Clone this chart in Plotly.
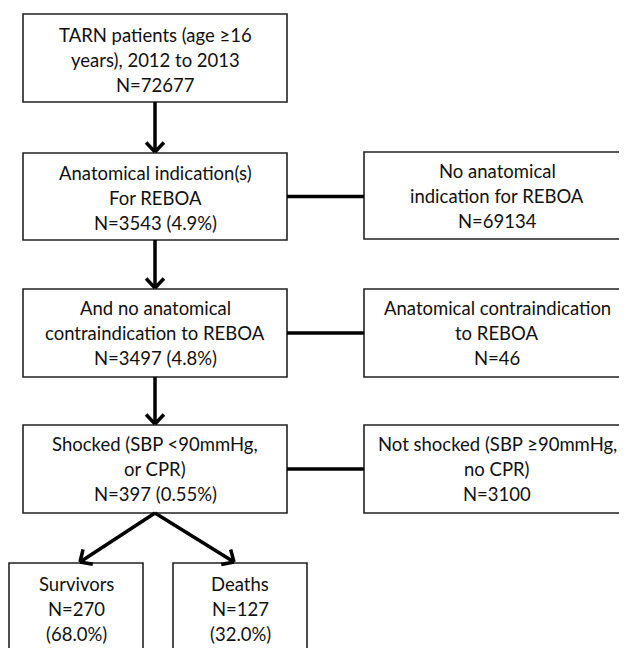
import plotly.graph_objects as go
import math

# ---- data: node texts ----
node_labels = [
    ["TARN patients (age \u226516", "years), 2012 to 2013", "N=72677"],
    ["Anatomical indication(s)", "For REBOA", "N=3543 (4.9%)"],
    ["No anatomical", "indication for REBOA", "N=69134"],
    ["And no anatomical", "contraindication to REBOA", "N=3497 (4.8%)"],
    ["Anatomical contraindication", "to REBOA", "N=46"],
    ["Shocked (SBP <90mmHg,", "or CPR)", "N=397 (0.55%)"],
    ["Not shocked (SBP \u226590mmHg,", "no CPR)", "N=3100"],
    ["Survivors", "N=270", "(68.0%)"],
    ["Deaths", "N=127", "(32.0%)"],
]

# ---- layout: box geometry (x0, y0, x1, y1) in pixels ----
boxes = [
    (23, 14, 287, 102),
    (23, 153, 287, 240),
    (364, 152, 627, 239),
    (23, 289, 287, 377),
    (364, 289, 627, 377),
    (23, 425, 287, 513),
    (364, 425, 627, 513),
    (9, 563, 143, 700),
    (173, 563, 307, 700),
]
text_centers_y = [60, 198, 196, 333, 333, 469, 469, 609, 609]
text_centers_x_right = 497

# arrows (from node, to node) with heads; plain connectors without heads
arrows = [(0, 1), (1, 3), (3, 5)]
connectors = [(1, 2), (3, 4), (5, 6)]
diag_targets = [(5, 7, 80), (5, 8, 234)]

fig = go.Figure()
shapes = []
annotations = []
LINE_SP = 25
FONT = dict(family="Lato, 'Open Sans', sans-serif", size=18.5, color="#111")

for k, ((x0, y0, x1, y1), lbl, cy) in enumerate(zip(boxes, node_labels, text_centers_y)):
    shapes.append(dict(type="rect", x0=x0, y0=y0, x1=x1, y1=y1,
                       line=dict(color="#222", width=1.6), fillcolor="white", layer="below"))
    cx = (x0 + x1) / 2 if x0 < 300 else text_centers_x_right
    n = len(lbl)
    for i, t in enumerate(lbl):
        annotations.append(dict(x=cx, y=cy + (i - (n - 1) / 2) * LINE_SP, text=t,
                                showarrow=False, xanchor="center", yanchor="middle",
                                font=FONT))


def draw_arrow(xa, ya, xb, yb, head=True):
    xs = [xa, xb, None]
    ys = [ya, yb, None]
    if head:
        ang = math.atan2(yb - ya, xb - xa)
        L = 13
        for d in (math.pi * 0.76, -math.pi * 0.76):
            xs += [xb, xb + L * math.cos(ang + d), None]
            ys += [yb, yb + L * math.sin(ang + d), None]
    fig.add_trace(go.Scatter(x=xs, y=ys, mode="lines",
                             line=dict(color="black", width=3.5),
                             hoverinfo="skip", showlegend=False))


for a, b in arrows:
    ba, bb = boxes[a], boxes[b]
    cx = (ba[0] + ba[2]) / 2
    draw_arrow(cx, ba[3], cx, bb[1] - 1)

for a, b in connectors:
    ba, bb = boxes[a], boxes[b]
    cy = (ba[1] + ba[3]) / 2
    draw_arrow(ba[2], cy, bb[0], cy, head=False)

for a, b, tx in diag_targets:
    ba, bb = boxes[a], boxes[b]
    cx = (ba[0] + ba[2]) / 2
    draw_arrow(cx, ba[3], tx, bb[1] - 1)

# page body has an 8px default margin: offset axis ranges so pixel coords match
OFF = 8
fig.update_layout(
    width=627, height=648,
    margin=dict(l=0, r=0, t=0, b=0),
    paper_bgcolor="white", plot_bgcolor="white",
    xaxis=dict(range=[OFF, 627 + OFF], visible=False, fixedrange=True),
    yaxis=dict(range=[648 + OFF, OFF], visible=False, fixedrange=True),
    shapes=shapes, annotations=annotations,
    showlegend=False,
)

fig.write_html("out.html")
